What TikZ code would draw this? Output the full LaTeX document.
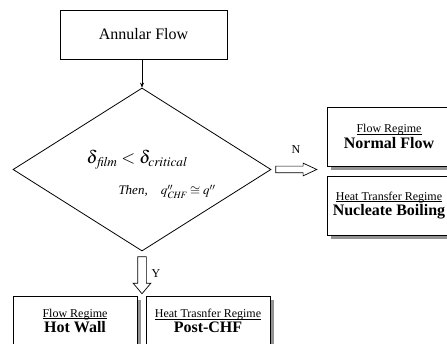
\documentclass[tikz,border=0pt]{standalone}
\usepackage{mathptmx}
\usepackage[no-math]{fontspec}
\setmainfont{Liberation Serif}
\usetikzlibrary{shapes.geometric,shapes.arrows,arrows.meta,backgrounds}
\newcommand{\ulx}[1]{\setbox0\hbox{#1}\rlap{\rule[-1.6pt]{\wd0}{0.6pt}}\box0}
\newcommand{\twoline}[2]{{\fontsize{12}{14}\selectfont\ulx{#1}}\\[1pt]{\fontsize{16}{17}\selectfont\bfseries #2}}
\begin{document}
\begin{tikzpicture}[x=1pt,y=-1pt,
  box/.style={draw, line width=0.8pt, fill=white, inner sep=0pt, align=center},
  sbox/.style={box, minimum width=124pt},
  shadowfill/.style={fill=gray!85, draw=none},
  hollow/.style={single arrow, draw, line width=0.7pt, fill=white, inner xsep=0pt, single arrow head indent=0pt},
  small/.style={font=\fontsize{12}{14}\selectfont},
]
\useasboundingbox (0,0) rectangle (447,344);
\clip (0,0) rectangle (447,344);

\node[box, minimum width=167pt, minimum height=49pt, font=\fontsize{16}{18}\selectfont] (annular) at (143.5,34.5) {Annular Flow};

\node[draw, diamond, line width=0.8pt, minimum width=258pt, minimum height=163pt, inner sep=0pt] (dec) at (142,169.5) {};
\node[inner sep=0pt] (cond) at (137,160) {\fontsize{18}{20}\selectfont$\delta_{\,\mathit{film}} < \delta_{\mathit{critical}}$};
\node[inner sep=0pt] (then) at (167,192) {\fontsize{13}{15}\selectfont\itshape Then,\quad $q''_{\mathit{CHF}} \cong q''$};

\draw[-{Stealth[length=5pt,width=4pt]}, line width=0.6pt] (annular.south -| dec.north) -- (dec.north);

\node[hollow, inner ysep=3pt, minimum height=41pt, single arrow head extend=3pt, single arrow tip angle=50, anchor=tail] (narrow) at ([xshift=4pt]dec.east) {};
\node[small] (nlab) at (296,150) {N};

\node[sbox, minimum height=59pt] (normal) at (389,136.5) {\twoline{Flow Regime}{Normal Flow}};
\node[sbox, minimum height=59pt] (nucleate) at (389,205.5) {\twoline{Heat Transfer Regime}{Nucleate Boiling}};

\node[hollow, inner ysep=4pt, minimum height=37pt, single arrow head extend=4.5pt, single arrow tip angle=80, rotate=-90, anchor=tail] (yarrow) at ([yshift=-5pt]dec.south) {};
\node[small] (ylab) at (156,274) {Y};

\node[sbox, minimum height=50pt] (hotwall) at (75,321) {\twoline{Flow Regime}{Hot Wall}};
\node[sbox, minimum height=50pt] (postchf) at (208,321) {\twoline{Heat Trasnfer Regime}{Post-CHF}};

\begin{scope}[on background layer]
  \foreach \b in {normal,nucleate,hotwall,postchf}
    \fill[shadowfill] ([shift={(4,4)}]\b.north west) rectangle ([shift={(4,4)}]\b.south east);
\end{scope}
\end{tikzpicture}
\end{document}
